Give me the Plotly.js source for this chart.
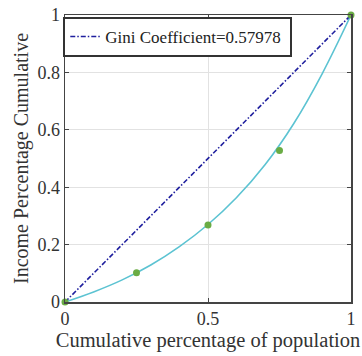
<!DOCTYPE html>
<html>
<head>
<meta charset="utf-8">
<script src="https://cdn.plot.ly/plotly-3.0.1.min.js"></script>
<style>html,body{margin:0;padding:0;background:#fff;}#chart{width:362px;height:356px;}</style>
</head>
<body>
<div id="chart"></div>
<script>
// Data
var equalityX = [0, 1];
var equalityY = [0, 1];
var pointsX = [0, 0.25, 0.5, 0.75, 1];
var pointsY = [0, 0.102, 0.268, 0.528, 1];
var curveX = [0, 0.1, 0.2, 0.3, 0.4, 0.5, 0.6, 0.7, 0.8, 0.9, 1];
var curveY = [0, 0.035, 0.077, 0.129, 0.193, 0.27, 0.364, 0.479, 0.622, 0.797, 1];
var legendLabel = 'Gini Coefficient=0.57978';
var xTickVals = [0, 0.5, 1];
var xTickText = ['0', '0.5', '1'];
var yTickVals = [0, 0.2, 0.4, 0.6, 0.8, 1];
var yTickText = ['0', '0.2', '0.4', '0.6', '0.8', '1'];

var font = 'Liberation Serif';
var traces = [
  {x: curveX, y: curveY, mode: 'lines', line: {color: '#5cc3d2', width: 1.6, shape: 'spline'}, showlegend: false, hoverinfo: 'skip'},
  {x: equalityX, y: equalityY, mode: 'lines', name: legendLabel, line: {color: '#1f1f9e', width: 1.6, dash: '5px,2px,1.5px,2px'}},
  {x: pointsX, y: pointsY, mode: 'markers', marker: {color: '#6aac44', size: 7}, showlegend: false, cliponaxis: false}
];
var axisCommon = {
  showline: true, mirror: 'ticks', linecolor: '#444', linewidth: 1.5,
  ticks: 'inside', ticklen: 4, tickcolor: '#444',
  showgrid: true, gridcolor: '#e2e2e2', gridwidth: 1, zeroline: false,
  tickfont: {family: font, size: 18, color: '#333'}
};
var layout = {
  width: 362, height: 356,
  margin: {l: 65, r: 11, t: 15, b: 54},
  paper_bgcolor: '#fff', plot_bgcolor: '#fff',
  xaxis: Object.assign({}, axisCommon, {
    range: [0, 1], tickvals: xTickVals, ticktext: xTickText,
    title: {text: 'Cumulative percentage of population', font: {family: font, size: 20.5, color: '#333'}, standoff: 0}
  }),
  yaxis: Object.assign({}, axisCommon, {
    range: [0, 1], tickvals: yTickVals, ticktext: yTickText,
    title: {text: 'Income Percentage Cumulative', font: {family: font, size: 20, color: '#333'}, standoff: 3}
  }),
  legend: {
    x: -0.006, y: 0.993, xanchor: 'left', yanchor: 'top',
    orientation: 'h', entrywidth: 180, entrywidthmode: 'pixels',
    bgcolor: '#fff', bordercolor: '#333', borderwidth: 2,
    font: {family: font, size: 17, color: '#222'},
    itemwidth: 30, tracegroupgap: 0
  },
  showlegend: true
};
Plotly.newPlot('chart', traces, layout, {displayModeBar: false, staticPlot: true});
</script>
</body>
</html>
